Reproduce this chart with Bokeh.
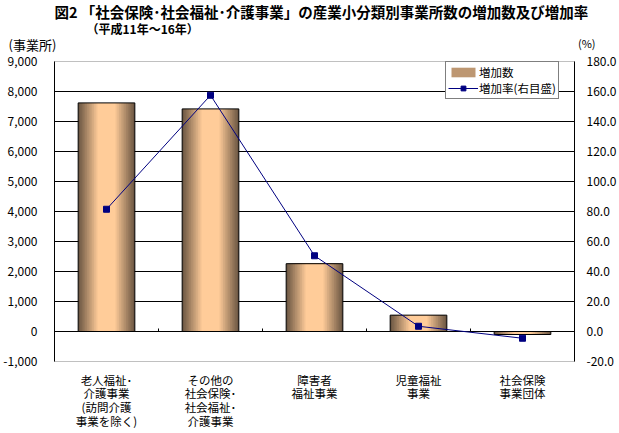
from bokeh.plotting import figure
from bokeh.models import (Range1d, LinearAxis, FixedTicker, NumeralTickFormatter,
                          Legend, LegendItem, Title)
from bokeh.embed import file_html
from bokeh.resources import INLINE

# ---------------- data ----------------
categories = [
    "老人福祉･\n介護事業\n(訪問介護\n事業を除く)",
    "その他の\n社会保険･\n社会福祉･\n介護事業",
    "障害者\n福祉事業",
    "児童福祉\n事業",
    "社会保険\n事業団体",
]
increase_count = [7620, 7420, 2260, 545, -100]      # 増加数 (事業所)
increase_rate = [81.5, 157.5, 50.5, 3.5, -4.5]      # 増加率 (%)
left_ticks = [-1000, 0, 1000, 2000, 3000, 4000, 5000, 6000, 7000, 8000, 9000]
right_ticks = [-20, 0, 20, 40, 60, 80, 100, 120, 140, 160, 180]

title_line1 = "図2 「社会保険･社会福祉･介護事業」の産業小分類別事業所数の増加数及び増加率"
title_line2 = "（平成11年～16年）"
left_unit = "(事業所)"
right_unit = "(%)"
legend_labels = ["増加数", "増加率(右目盛)"]

FONT = "Noto Sans CJK JP"
EM_H = 1.448   # text box height / font size for this font

xs = list(range(1, len(categories) + 1))

p = figure(width=619, height=433, output_backend="svg", toolbar_location=None,
           x_range=Range1d(0.5, len(categories) + 0.5),
           y_range=Range1d(left_ticks[0], left_ticks[-1]),
           min_border_left=50, min_border_right=43,
           min_border_top=61, min_border_bottom=72,
           background_fill_color="white", border_fill_color="white")

p.extra_y_ranges = {"rate": Range1d(right_ticks[0], right_ticks[-1])}

p.outline_line_color = "#808080"
p.outline_line_dash = "1 1"
p.outline_line_width = 1

p.xgrid.visible = False
p.ygrid.ticker = FixedTicker(ticks=left_ticks[1:-1])
p.ygrid.grid_line_color = "black"
p.ygrid.grid_line_width = 1

ya = p.yaxis[0]
ya.ticker = FixedTicker(ticks=left_ticks)
ya.formatter = NumeralTickFormatter(format="0,0")
ya.axis_line_color = "black"
ya.major_tick_line_color = None
ya.minor_tick_line_color = None
ya.major_label_text_font = FONT
ya.major_label_text_font_size = "12px"
ya.major_label_text_color = "black"
ya.major_label_standoff = 11

ra = LinearAxis(y_range_name="rate", ticker=FixedTicker(ticks=right_ticks),
                formatter=NumeralTickFormatter(format="0.0"))
ra.axis_line_color = "black"
ra.major_tick_line_color = None
ra.minor_tick_line_color = None
ra.major_label_text_font = FONT
ra.major_label_text_font_size = "12px"
ra.major_label_text_color = "black"
ra.major_label_standoff = 6
p.add_layout(ra, "right")

xa = p.xaxis[0]
xa.ticker = FixedTicker(ticks=xs)
xa.major_label_overrides = {x: c for x, c in zip(xs, categories)}
xa.axis_line_color = None
xa.major_tick_line_color = None
xa.minor_tick_line_color = None
xa.major_label_text_font = FONT
xa.major_label_text_font_size = "11.5px"
xa.major_label_text_line_height = 0.87
xa.major_label_text_color = "black"
xa.major_label_standoff = 4

bounds = [x + 0.5 for x in xs[:-1]]
p.segment(x0=bounds, y0=[0] * len(bounds), x1=bounds, y1=[100] * len(bounds),
          line_color="black", line_width=1)

# bars: horizontal dark-edge / light-centre gradient built from layered bars
dark = (0x6e, 0x58, 0x44)
light = (0xff, 0xcc, 0x99)
bar_w = 0.545
N = 12
layers = []
for k in range(N):
    t = k / (N - 1)
    col = "#%02x%02x%02x" % tuple(int(round(d + (l - d) * t)) for d, l in zip(dark, light))
    w = bar_w * (1 - 0.68 * t)
    r = p.vbar(x=xs, top=increase_count, bottom=0, width=w,
               fill_color=col, line_color=None)
    layers.append(r)
p.vbar(x=xs, top=increase_count, bottom=0, width=bar_w,
       fill_color=None, line_color="black", line_width=1)

rl = p.line(xs, increase_rate, y_range_name="rate", line_color="#000080", line_width=1)
rs = p.scatter(xs, increase_rate, y_range_name="rate", marker="square", size=6,
               fill_color="#000080", line_color="#000080")

legend = Legend(items=[LegendItem(label=legend_labels[0], renderers=[layers[N // 2]]),
                       LegendItem(label=legend_labels[1], renderers=[rl, rs])],
                location=(391, 262))
legend.border_line_color = "black"
legend.border_line_width = 1
legend.background_fill_color = "white"
legend.background_fill_alpha = 1
legend.label_text_font = FONT
legend.label_text_font_size = "11.5px"
legend.label_text_color = "black"
legend.glyph_width = 30
legend.glyph_height = 12
legend.label_height = 12
legend.label_standoff = 1
legend.padding = 2
legend.spacing = 0
legend.margin = 0
p.add_layout(legend)


# header rows in the top panel; each band height = 2 + text height + standoff
def header(text, size, band_h, valign="middle", align="left", offset=0, bold=False):
    s = band_h - 2 - EM_H * size
    return Title(text=text, align=align, offset=offset, standoff=s,
                 vertical_align=valign, text_font=FONT, text_font_size="%gpx" % size,
                 text_font_style="bold" if bold else "normal", text_color="black")


# first added = closest to the frame
p.add_layout(header(" ", 12, 18), "above")                                   # spacer 43..61
p.add_layout(header(left_unit, 13, 0, "bottom", "left", -46), "above")       # centred ~44
p.add_layout(header(right_unit, 11, 0, "top", "right", -21), "above")        # centred ~42
p.add_layout(header(" ", 12, 8), "above")                                    # spacer 35..43
p.add_layout(header(title_line2, 12, 14, "middle", "left", 32, True), "above")  # 21..35
p.add_layout(header(title_line1, 14.5, 21, "middle", "left", 0, True), "above") # 0..21

open("out.html", "w").write(file_html(p, INLINE))
